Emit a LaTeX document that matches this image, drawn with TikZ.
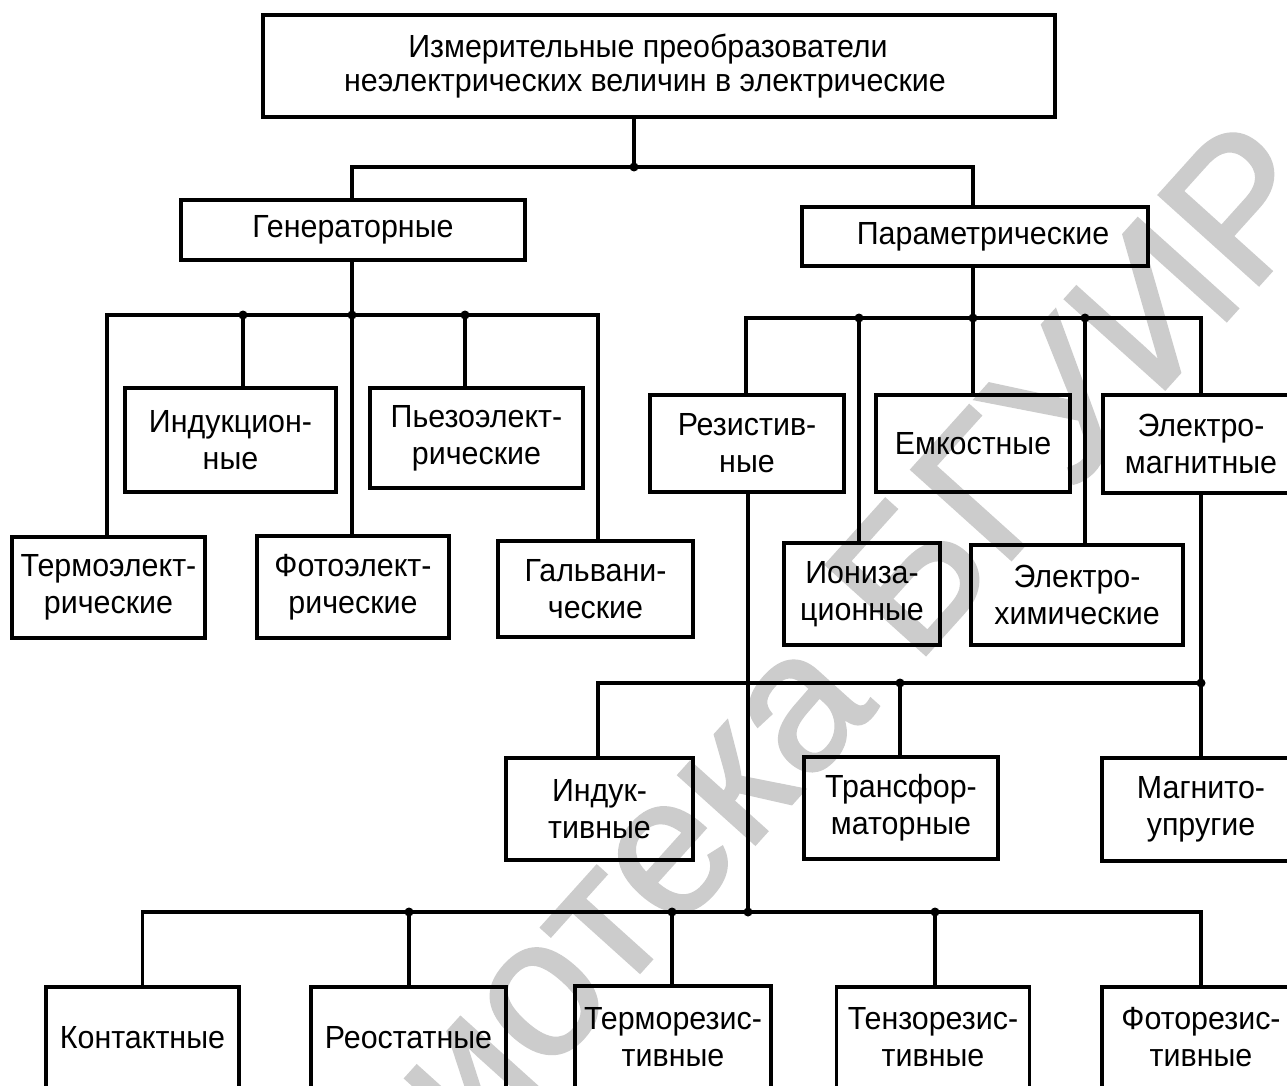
\documentclass[tikz,border=0pt]{standalone}
\usepackage{fontspec}
\setmainfont{Liberation Sans}[FakeStretch=0.95]
\newfontfamily\wmfont{Liberation Sans}[FakeBold=1.5]
\begin{document}
\begin{tikzpicture}[x=1pt,y=-1pt,
  box/.style={draw=black, line width=3.6pt, rectangle, inner sep=0pt, align=center,
    font=\fontsize{32}{37}\selectfont},
  conn/.style={line width=3.4pt},
  jdot/.style={fill=black}]
\useasboundingbox (0,0) rectangle (1287,1086);
\fill[white] (0,0) rectangle (1287,1086);
\clip (0,0) rectangle (1287,1086);
% watermark
\node[rotate=48, text=black!20, font=\wmfont\fontsize{195}{195}\selectfont] (wm) at (700,800) {Библиотека БГУИР};
% boxes
\node[box, minimum width=792, minimum height=102, font=\fontsize{32}{34}\selectfont] (top) at (659,66) {Измерительные преобразователи\hspace*{22pt}\\неэлектрических величин в электрические\hspace*{28pt}};
\node[box, minimum width=344, minimum height=60] (gen) at (353,230) {Генераторные};
\node[box, minimum width=346, minimum height=59] (par) at (975,236.5) {\hspace*{16pt}Параметрические};
\node[box, minimum width=211, minimum height=104] (ind) at (230.5,440) {Индукцион-\\ные};
\node[box, minimum width=213, minimum height=100] (pie) at (476.5,438) {Пьезоэлект-\\рические};
\node[box, minimum width=193, minimum height=101] (ter) at (108.5,587.5) {Термоэлект-\\рические};
\node[box, minimum width=192, minimum height=102] (fot) at (353,587) {Фотоэлект-\\рические};
\node[box, minimum width=195, minimum height=96] (gal) at (595.5,589) {Гальвани-\\ческие};
\node[box, minimum width=194, minimum height=97] (res) at (747,443.5) {Резистив-\\ные};
\node[box, minimum width=194, minimum height=97] (emk) at (973,443.5) {Емкостные};
\node[box, minimum width=196, minimum height=98] (elm) at (1201,444) {Электро-\\магнитные};
\node[box, minimum width=156, minimum height=102] (ion) at (862,594) {Иониза-\\ционные};
\node[box, minimum width=212, minimum height=100] (ehm) at (1077,595) {Электро-\\химические};
\node[box, minimum width=187, minimum height=102] (ikt) at (599.5,809) {Индук-\\тивные};
\node[box, minimum width=194, minimum height=102] (trf) at (901,808) {Трансфор-\\маторные};
\node[box, minimum width=198, minimum height=103] (mgn) at (1201,809.5) {Магнито-\\упругие};
\node[box, minimum width=193, minimum height=101] (kon) at (142.5,1037.5) {Контактные};
\node[box, minimum width=195, minimum height=101] (reo) at (408.5,1037.5) {Реостатные};
\node[box, minimum width=196, minimum height=102] (trz) at (673,1037) {Терморезис-\\тивные};
\node[box, minimum width=193, minimum height=101] (tnz) at (933,1037.5) {Тензорезис-\\тивные};
\node[box, minimum width=198, minimum height=101] (fte) at (1201,1037.5) {Фоторезис-\\тивные};
% bus junctions and drop lines
\coordinate (tj) at (634,167);
\coordinate (bG) at (352,315);
\coordinate (bP) at (973,318);
\coordinate (bE) at (1201,683);
\coordinate (bR) at (748,912);
\coordinate (xTer) at (107,0);
\coordinate (xInd) at (243,0);
\coordinate (xPie) at (465,0);
\coordinate (xGal) at (598,0);
\coordinate (xRes) at (746,0);
\coordinate (xIon) at (859,0);
\coordinate (xEhm) at (1085,0);
\coordinate (xIkt) at (598,0);
\coordinate (xTrf) at (900,0);
\coordinate (xReo) at (409,0);
\coordinate (xTrz) at (672,0);
\coordinate (xTnz) at (935,0);
% connectors
\draw[conn] (tj |- top.south) -- (tj);
\draw[conn] (bG |- gen.north) |- (tj) -| (bP |- par.north);
\draw[conn] (bG |- gen.south) -- (bG |- fot.north);
\draw[conn] (xTer |- ter.north) |- (bG) -| (xGal |- gal.north);
\draw[conn] (xInd |- ind.north) -- (xInd |- bG);
\draw[conn] (xPie |- pie.north) -- (xPie |- bG);
\draw[conn] (bP |- par.south) -- (emk.north);
\draw[conn] (xRes |- res.north) |- (bP) -| (bE |- elm.north);
\draw[conn] (xIon |- ion.north) -- (xIon |- bP);
\draw[conn] (xEhm |- ehm.north) -- (xEhm |- bP);
\draw[conn] (bE |- elm.south) -- (bE |- mgn.north);
\draw[conn] (xIkt |- ikt.north) |- (bE);
\draw[conn] (xTrf |- trf.north) -- (xTrf |- bE);
\draw[conn] (bR |- res.south) -- (bR);
\draw[conn] (kon.north) |- (bR) -| (bE |- fte.north);
\draw[conn] (xReo |- reo.north) -- (xReo |- bR);
\draw[conn] (xTrz |- trz.north) -- (xTrz |- bR);
\draw[conn] (xTnz |- tnz.north) -- (xTnz |- bR);
% junction dots
\foreach \p in {(tj),(bG),(xInd |- bG),(xPie |- bG),(bP),(xIon |- bP),(xEhm |- bP),(bE),(xTrf |- bE),(bR),(xReo |- bR),(xTrz |- bR),(xTnz |- bR)}
  \fill[jdot] \p circle (4.5);
\end{tikzpicture}
\end{document}
